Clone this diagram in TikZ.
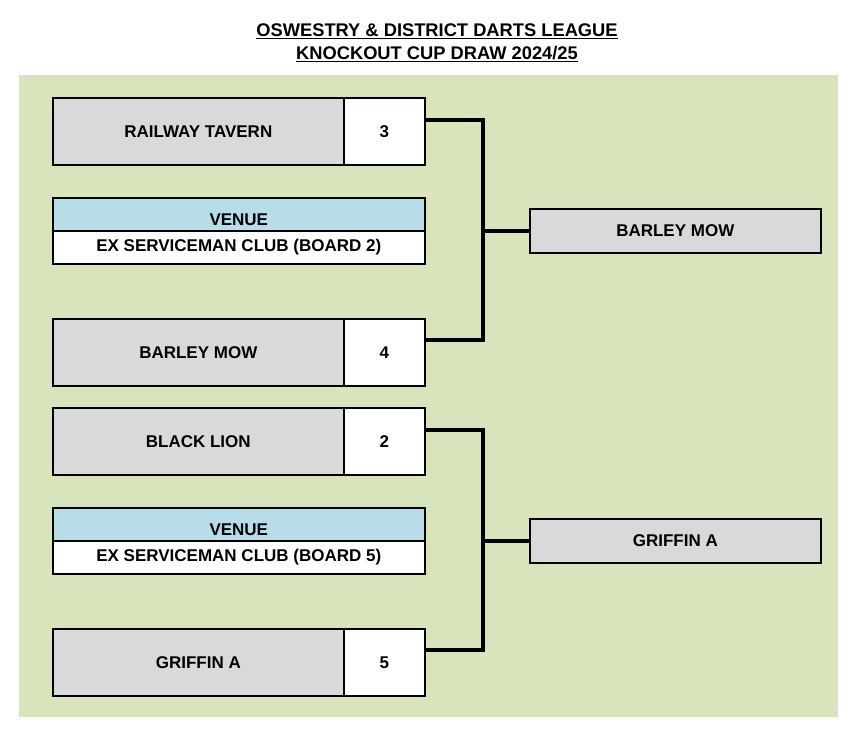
\documentclass[tikz,border=0pt]{standalone}
\usepackage{fontspec}
\setmainfont{Liberation Sans}
\usetikzlibrary{calc}
\definecolor{bggreen}{HTML}{D8E4BC}
\definecolor{boxgray}{HTML}{D9D9D9}
\definecolor{venueblue}{HTML}{B7DEE8}
\tikzset{
  boxfont/.style={font=\fontsize{17}{19}\selectfont\bfseries},
  teambox/.style={boxfont, draw=black, line width=1.6pt, fill=boxgray, minimum width=291pt, minimum height=67pt, anchor=north west, inner sep=0pt},
  scorebox/.style={boxfont, draw=black, line width=1.6pt, fill=white, minimum width=81pt, minimum height=67pt, anchor=north west, inner sep=0pt},
  venuehead/.style={boxfont, draw=black, line width=1.6pt, fill=venueblue, minimum width=372pt, minimum height=33pt, anchor=north west, inner sep=0pt, text height=23pt, text depth=0pt},
  venuebox/.style={boxfont, draw=black, line width=1.6pt, fill=white, minimum width=372pt, minimum height=33pt, anchor=north west, inner sep=0pt},
  winbox/.style={boxfont, draw=black, line width=1.6pt, fill=boxgray, minimum width=291pt, minimum height=44pt, anchor=north west, inner sep=0pt},
  bracket/.style={draw=black, line width=3.5pt},
  titletext/.style={font=\fontsize{18.3}{22}\selectfont\bfseries, inner sep=0pt}
}
\begin{document}
\begin{tikzpicture}[x=1pt,y=-1pt]
\useasboundingbox (0,0) rectangle (862,737);
\fill[white] (0,0) rectangle (862,737);
\fill[bggreen] (19,75) rectangle (838,717);

\node[titletext] (t1) at (437,31) {\underline{OSWESTRY \& DISTRICT DARTS LEAGUE}};
\node[titletext] (t2) at (437,54) {\underline{KNOCKOUT CUP DRAW 2024/25}};

% first tie
\node[teambox] (n1) at (52,97) {RAILWAY TAVERN};
\node[scorebox] (s1) at (343,97) {3};
\node[venuehead] (vh1) at (52,197) {VENUE};
\node[venuebox] (v1) at (52,230) {EX SERVICEMAN CLUB (BOARD 2)};
\node[teambox] (n2) at (52,318) {BARLEY MOW};
\node[scorebox] (s2) at (343,318) {4};
\node[winbox] (w1) at (529,208) {BARLEY MOW};

% second tie
\node[teambox] (n3) at (52,407) {BLACK LION};
\node[scorebox] (s3) at (343,407) {2};
\node[venuehead] (vh2) at (52,507) {VENUE};
\node[venuebox] (v2) at (52,540) {EX SERVICEMAN CLUB (BOARD 5)};
\node[teambox] (n4) at (52,628) {GRIFFIN A};
\node[scorebox] (s4) at (343,628) {5};
\node[winbox] (w2) at (529,518) {GRIFFIN A};

% brackets
\coordinate (a1) at ($(s1.north east)+(0,23)$);
\coordinate (b1) at ($(s2.north east)+(0,22)$);
\coordinate (j1) at (483,0);
\draw[bracket] (a1) -- (a1 -| j1) -- (b1 -| j1) -- (b1);
\draw[bracket] (j1 |- w1.west) -- (w1.west);

\coordinate (a2) at ($(s3.north east)+(0,23)$);
\coordinate (b2) at ($(s4.north east)+(0,22)$);
\draw[bracket] (a2) -- (a2 -| j1) -- (b2 -| j1) -- (b2);
\draw[bracket] (j1 |- w2.west) -- (w2.west);
\end{tikzpicture}
\end{document}
